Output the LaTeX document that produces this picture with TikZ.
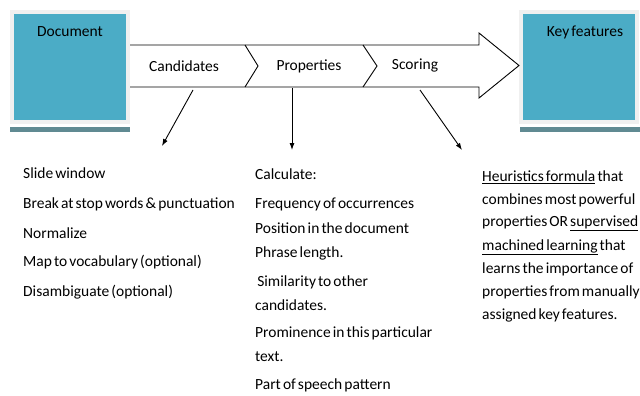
\documentclass[tikz,border=0pt]{standalone}
\usepackage{fontspec}
\setmainfont[WordSpace=0.6]{Carlito}
\usetikzlibrary{positioning, arrows.meta}
\definecolor{boxBlue}{RGB}{75,172,198}
\definecolor{boxShade}{RGB}{96,138,146}
\definecolor{boxRim}{RGB}{240,240,240}

\begin{document}
\begin{tikzpicture}[x=1pt, y=-1pt,
  endbox/.style={fill=boxBlue, draw=boxRim, line width=3.5pt, minimum width=116pt, minimum height=110pt, inner sep=0pt},
  item/.style={font=\fontsize{15.5}{18}\selectfont, anchor=west, inner sep=0pt},
  stage/.style={font=\fontsize{15.5}{18}\selectfont, inner sep=0pt},
  pointer/.style={line width=0.9pt, -{Latex[length=7pt,width=5pt]}},
]
  \useasboundingbox (0,0) rectangle (640,396);

  % end boxes
  \fill[boxShade] (10,127) rectangle (130,131.5);
  \node[endbox] (doc) at (70,67) {};
  \node[stage] (docname) at (70,32) {Document};
  \fill[boxShade] (520,127) rectangle (640,131.5);
  \node[endbox] (key) at (579,67) {};
  \node[stage] (keyname) at (585,32) {Key features};

  % the big arrow
  \draw[line width=0.9pt, fill=white] (130,45) -- (479,45) -- (479,33) -- (519,65.5)
    -- (479,98) -- (479,87) -- (130,87);
  \draw[line width=0.9pt] (245,45) -- (258,66) -- (245,87);
  \draw[line width=0.9pt] (363,45) -- (377,66) -- (363,87);
  \node[stage] (cand) at (184,66) {Candidates};
  \node[stage] (prop) at (309,66) {Properties};
  \node[stage] (score) at (415,66) {Scoring};

  \coordinate (candfoot) at (193,90);
  \coordinate (propfoot) at (292,88);
  \coordinate (scorefoot) at (420,90);
  \coordinate (candend) at (162,146);
  \coordinate (propend) at (292,150);
  \coordinate (scoreend) at (462,150);
  \draw[pointer] (candfoot) -- (candend);
  \draw[pointer] (propfoot) -- (propend);
  \draw[pointer] (scorefoot) -- (scoreend);

  % candidates
  \node[item] (c1) at (23,173) {Slide window};
  \node[item] (c2) at (23,204) {Break at stop words \& punctuation};
  \node[item] (c3) at (23,233) {Normalize};
  \node[item] (c4) at (23,262) {Map to vocabulary (optional)};
  \node[item] (c5) at (23,292) {Disambiguate (optional)};

  % properties
  \node[item] (p1) at (255,174) {Calculate:};
  \node[item] (p2) at (255,204) {Frequency of occurrences};
  \node[item] (p3) at (255,228) {Position in the document};
  \node[item] (p4) at (255,253) {Phrase length.};
  \node[item] (p5) at (255,282) {\ Similarity to other};
  \node[item] (p6) at (255,305) {candidates.};
  \node[item] (p7) at (255,333) {Prominence in this particular};
  \node[item] (p8) at (255,357) {text.};
  \node[item] (p9) at (255,385) {Part of speech pattern};

  % scoring
  \node[item] (s1) at (482,177) {\underline{Heuristics formula} that};
  \node[item] (s2) at (482,200) {combines most powerful};
  \node[item] (s3) at (482,223) {properties OR \underline{supervised}};
  \node[item] (s4) at (482,247) {\underline{machined learning} that};
  \node[item] (s5) at (482,269) {learns the importance of};
  \node[item] (s6) at (482,292) {properties from manually};
  \node[item] (s7) at (482,315) {assigned key features.};
\end{tikzpicture}
\end{document}
